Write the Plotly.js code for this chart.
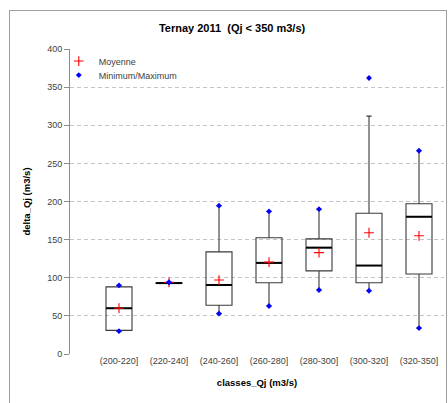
<!DOCTYPE html>
<html>
<head>
<meta charset="utf-8">
<script src="https://cdn.plot.ly/plotly-3.0.1.min.js"></script>
<style>
  html, body { margin: 0; padding: 0; background: #fff; }
  #wrap { position: relative; width: 448px; height: 403px; }
  #chart { width: 448px; height: 403px; }
  #frame { position: absolute; left: 9px; top: 10px; width: 436px; height: 400px;
           border: 1px solid #a0a0a0; pointer-events: none; }
</style>
</head>
<body>
<div id="wrap">
  <div id="chart"></div>
  <div id="frame"></div>
</div>
<script>
// Flow classes (m3/s)
const classes = ['(200-220]', '(220-240]', '(240-260]', '(260-280]', '(280-300]', '(300-320]', '(320-350]'];
// Box statistics of delta_Qj per class
const q1      = [31, 92.5, 64, 93.5, 109, 93.5, 105];
const median  = [60, 93, 90.5, 119.5, 139.5, 116, 180];
const q3      = [88, 93.5, 134, 152.5, 151, 184.5, 197];
const whiskLo = [30, 92.5, 53, 63, 84, 83, 34];
const whiskHi = [90, 94, 194.5, 187, 190, 312, 266.5];
// Extremes and means
const minimum = [30, 94, 53, 63, 84, 83, 34];
const maximum = [90, 94, 194.5, 187, 190, 362, 266.5];
const moyenne = [60, 94, 97, 120.5, 133, 159, 155];

const font = 'Liberation Sans, Arial, sans-serif';

const boxes = {
  type: 'box',
  x: classes,
  q1: q1, median: median, q3: q3,
  lowerfence: whiskLo, upperfence: whiskHi,
  boxpoints: false,
  width: 0.52,
  whiskerwidth: 0.2,
  fillcolor: 'rgba(255,255,255,0)',
  line: { color: '#3a3a3a', width: 1.1 },
  showlegend: false,
  hoverinfo: 'skip'
};

// thicker median bars, same width as the boxes
const medians = {
  type: 'scatter', mode: 'markers',
  x: classes, y: median,
  marker: { symbol: 'line-ew', size: 18.5, line: { color: '#000', width: 2 } },
  showlegend: false, hoverinfo: 'skip'
};

const means = {
  type: 'scatter', mode: 'markers', name: 'Moyenne',
  x: classes, y: moyenne, legend: 'legend',
  marker: { symbol: 'cross-thin', size: 7, color: '#ff0000', line: { color: '#ff0000', width: 1.1 } }
};

const extremes = {
  type: 'scatter', mode: 'markers', name: 'Minimum/Maximum',
  x: classes.concat(classes), y: minimum.concat(maximum), legend: 'legend2',
  marker: { symbol: 'diamond', size: 4.5, color: '#0000ff' }
};

const legendStyle = {
  xanchor: 'left', yanchor: 'top', x: -0.03,
  bgcolor: 'rgba(0,0,0,0)', font: { size: 9, color: '#404040' },
  itemwidth: 30
};

const layout = {
  width: 448, height: 403,
  margin: { l: 70, r: 4, t: 49, b: 49 },
  paper_bgcolor: '#fff', plot_bgcolor: '#fff',
  font: { family: font, size: 9, color: '#404040' },
  title: { text: '<b>Ternay 2011  (Qj < 350 m3/s)</b>', x: 0.518, xanchor: 'center',
           y: 0.93, yanchor: 'middle', font: { family: font, size: 11, color: '#000' } },
  xaxis: {
    type: 'category', range: [-0.98, 6.5],
    showgrid: false, showline: false, zeroline: false,
    ticks: '', tickfont: { size: 9, color: '#404040' },
    title: { text: '<b>classes_Qj (m3/s)</b>', font: { size: 9.5, color: '#000' }, standoff: 14 }
  },
  yaxis: {
    range: [0, 400], dtick: 50,
    showgrid: true, gridcolor: '#c4c4c4', griddash: '4px,3px', gridwidth: 1,
    showline: true, linecolor: '#8c8c8c', linewidth: 1,
    ticks: 'outside', ticklen: 5, tickcolor: '#8c8c8c',
    zeroline: false, tickfont: { size: 9, color: '#404040' },
    title: { text: '<b>delta_Qj (m3/s)</b>', font: { size: 9.5, color: '#000' }, standoff: 14 }
  },
  legend: Object.assign({}, legendStyle, { y: 1.008 }),
  legend2: Object.assign({}, legendStyle, { y: 0.962 }),
  showlegend: true
};

Plotly.newPlot('chart', [boxes, medians, means, extremes], layout, { staticPlot: true });
</script>
</body>
</html>
